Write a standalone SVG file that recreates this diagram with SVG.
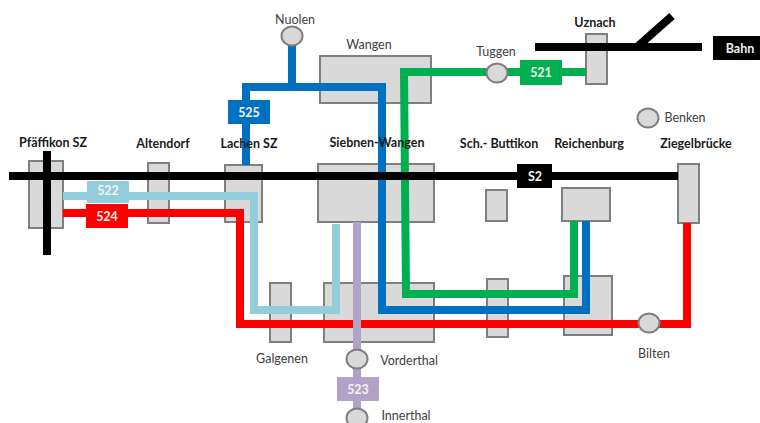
<svg xmlns="http://www.w3.org/2000/svg" width="760" height="423" viewBox="0 0 760 423">
<style>
.st{fill:#d9d9d9;stroke:#7f7f7f;stroke-width:2}
.ln{fill:none;stroke-width:8}
text{font-family:"Lato","Open Sans",sans-serif;font-size:12.5px;fill:#404040;text-anchor:middle}
.b{font-weight:700;fill:#1a1a1a}
.box{font-weight:700;fill:#f2f2f2;font-size:12.5px}
</style>
<rect width="760" height="423" fill="#fff"/>
<g id="stations">
<g id="pfaeffikon"><rect class="st" x="29" y="161" width="34" height="67"/><text class="b" x="53" y="147">Pfäffikon SZ</text></g>
<g id="altendorf"><rect class="st" x="148" y="163" width="21" height="60"/><text class="b" x="163" y="148">Altendorf</text></g>
<g id="lachen"><rect class="st" x="225" y="165" width="37" height="57"/></g>
<g id="siebnen"><rect class="st" x="318" y="164" width="116" height="58"/><rect class="st" x="324" y="283" width="110" height="59"/></g>
<g id="wangen"><rect class="st" x="320" y="56" width="111" height="47"/><text x="369" y="49">Wangen</text></g>
<g id="buttikon"><rect class="st" x="486" y="190" width="21" height="31"/><rect class="st" x="487" y="279" width="21" height="58"/><text class="b" x="499" y="148">Sch.- Buttikon</text></g>
<g id="reichenburg"><rect class="st" x="562" y="188" width="48" height="33"/><rect class="st" x="564" y="276" width="48" height="59"/><text class="b" x="589" y="148">Reichenburg</text></g>
<g id="ziegelbruecke"><rect class="st" x="678" y="164" width="21" height="59"/><text class="b" x="696" y="148">Ziegelbrücke</text></g>
<g id="uznach"><rect class="st" x="586" y="34" width="21" height="50"/><text class="b" x="595" y="27">Uznach</text></g>
<g id="galgenen"><rect class="st" x="270" y="283" width="21" height="59"/><text x="282" y="363">Galgenen</text></g>
</g>
<g id="connectors">
<path class="ln" stroke="#92cddc" d="M63 196H254V310H336V224"/>
<path class="ln" stroke="#ff0000" d="M63 213H240V324H687V223"/>
<path class="ln" stroke="#0070c0" d="M292 45V87M246 165V87H382V310H586V221"/>
<path class="ln" stroke="#00b050" d="M586 72H404L406 294H574V221"/>
<path class="ln" stroke="#b2a2c7" d="M357 222V418"/>
<path class="ln" stroke="#000" d="M9 176H678M47 151V255M535 47H702M637 47L672 16"/>
</g>
<g id="stops">
<g id="nuolen"><ellipse class="st" cx="292" cy="36" rx="10.500" ry="9.500"/><text x="295" y="24">Nuolen</text></g>
<g id="tuggen"><ellipse class="st" cx="497" cy="73" rx="10.500" ry="9.500"/><text x="496" y="56">Tuggen</text></g>
<g id="benken"><ellipse class="st" cx="648" cy="118" rx="10.500" ry="9.500"/><text x="685" y="122">Benken</text></g>
<g id="bilten"><ellipse class="st" cx="649" cy="323" rx="10.500" ry="9.500"/><text x="654" y="358">Bilten</text></g>
<g id="vorderthal"><ellipse class="st" cx="357" cy="359" rx="10.500" ry="9.500"/><text x="409" y="365">Vorderthal</text></g>
<g id="innerthal"><ellipse class="st" cx="357" cy="418" rx="10.500" ry="9.500"/><text x="406" y="420">Innerthal</text></g>
</g>
<g id="labels">
<text class="b" x="249" y="148">Lachen SZ</text>
<text class="b" x="377" y="147">Siebnen-Wangen</text>
<g id="l522"><rect x="87" y="181" width="42" height="22" fill="#92cddc"/><text class="box" x="108" y="195">522</text></g>
<g id="l524"><rect x="86" y="204" width="42" height="24" fill="#ff0000"/><text class="box" x="107" y="221">524</text></g>
<g id="l525"><rect x="228" y="100" width="42" height="24" fill="#0070c0"/><text class="box" x="249" y="117">525</text></g>
<g id="l521"><rect x="520" y="60" width="42" height="25" fill="#00b050"/><text class="box" x="541" y="77">521</text></g>
<g id="l523"><rect x="337" y="377" width="42" height="24" fill="#b2a2c7"/><text class="box" x="358" y="394">523</text></g>
<g id="ls2"><rect x="517" y="164" width="35" height="24" fill="#000"/><text class="box" x="535" y="181">S2</text></g>
<g id="lbahn"><rect x="713" y="36" width="47" height="24" fill="#000"/><text class="box" x="740" y="53">Bahn</text></g>
</g>
</svg>
